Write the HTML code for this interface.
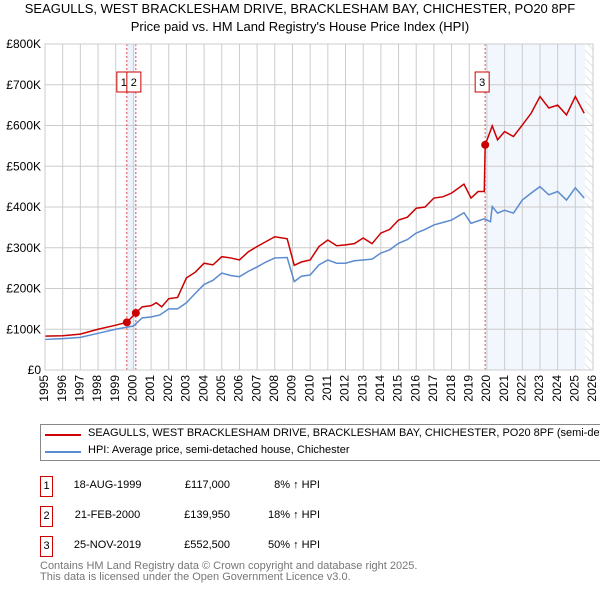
<!DOCTYPE html>
<html><head><meta charset="utf-8"><style>
body{margin:0;background:#fff;font-family:"Liberation Sans","DejaVu Sans",sans-serif;}
#wrap{position:relative;width:600px;height:590px;overflow:hidden}
.t{position:absolute;font-size:12px;color:#000;white-space:nowrap}
</style></head><body><div id="wrap">
<div class="t" style="left:0;width:600px;text-align:center;top:1px;font-size:13px">SEAGULLS, WEST BRACKLESHAM DRIVE, BRACKLESHAM BAY, CHICHESTER, PO20 8PF</div>
<div class="t" style="left:0;width:600px;text-align:center;top:19px;font-size:13px">Price paid vs. HM Land Registry's House Price Index (HPI)</div>
<svg id="c" width="600" height="420" style="position:absolute;left:0;top:0"></svg>
<div style="position:absolute;left:40px;top:424px;width:600px;height:37px;border:1px solid #888;box-sizing:border-box">
<div style="position:absolute;left:4px;top:9px;width:36px;height:2px;background:#cc0000"></div>
<div class="t" style="left:47px;top:2px;font-size:11px">SEAGULLS, WEST BRACKLESHAM DRIVE, BRACKLESHAM BAY, CHICHESTER, PO20 8PF (semi-detached house)</div>
<div style="position:absolute;left:4px;top:26px;width:36px;height:2px;background:#5b8bd0"></div>
<div class="t" style="left:47px;top:19px;font-size:11px">HPI: Average price, semi-detached house, Chichester</div>
</div>
<div id="tbl"></div>
<div class="t" style="left:40px;top:560px;font-size:11px;color:#777">Contains HM Land Registry data © Crown copyright and database right 2025.</div>
<div class="t" style="left:40px;top:571px;font-size:11px;color:#777">This data is licensed under the Open Government Licence v3.0.</div>
</div>
<script>
const hpiYears=[1995,1996,1997,1998,1999,2000,2000.5,2001,2001.5,2002,2002.5,2003,2003.5,2004,2004.5,2005,2005.5,2006,2006.5,2007,2007.5,2008,2008.7,2009.1,2009.5,2010,2010.5,2011,2011.5,2012,2012.5,2013,2013.5,2014,2014.5,2015,2015.5,2016,2016.5,2017,2017.5,2018,2018.7,2019.1,2019.5,2019.85,2020.2,2020.3,2020.6,2021,2021.5,2022,2022.5,2023,2023.5,2024,2024.5,2025,2025.5];
const hpiValues=[75,77,80,90,100,108,128,130,135,150,150,165,188,210,220,238,232,229,242,253,265,275,276,217,230,233,258,270,262,262,268,270,272,287,295,311,320,336,345,356,362,368,386,360,366,371,364,401,385,392,385,417,434,450,430,438,417,447,422];
const ppYears=[1995,1996,1997,1998,1999,1999.63,2000.14,2000.5,2001,2001.3,2001.6,2002,2002.5,2003,2003.5,2004,2004.5,2005,2005.5,2006,2006.5,2007,2007.5,2008,2008.7,2009.1,2009.5,2010,2010.5,2011,2011.5,2012,2012.5,2013,2013.5,2014,2014.5,2015,2015.5,2016,2016.5,2017,2017.5,2018,2018.7,2019.1,2019.5,2019.85,2019.9,2020.3,2020.6,2021,2021.5,2022,2022.5,2023,2023.5,2024,2024.5,2025,2025.5];
const ppValues=[83,84,88,100,110,117,139.95,155,158,165,155,175,178,226,240,262,258,278,275,270,290,303,315,327,322,257,265,270,303,319,305,307,310,324,310,336,345,368,375,397,400,422,425,434,456,422,438,438,552.5,599,565,585,573,601,630,671,643,650,626,671,630];
const saleYears=[1999.63,2000.14,2019.9];
const saleValues=[117,139.95,552.5];
const saleLabels=["1","2","3"];
const yTicks=[0,100,200,300,400,500,600,700,800];
const yTickLabels=["£0","£100K","£200K","£300K","£400K","£500K","£600K","£700K","£800K"];
const xTicks=[1995,1996,1997,1998,1999,2000,2001,2002,2003,2004,2005,2006,2007,2008,2009,2010,2011,2012,2013,2014,2015,2016,2017,2018,2019,2020,2021,2022,2023,2024,2025,2026];
const tblDates=["18-AUG-1999","21-FEB-2000","25-NOV-2019"];
const tblPrices=["£117,000","£139,950","£552,500"];
const tblHpi=["8% ↑ HPI","18% ↑ HPI","50% ↑ HPI"];

const X=y=>45+(y-1995)*(548/31), Y=v=>370-v*0.4075;
const svg=document.getElementById('c'),NS='http://www.w3.org/2000/svg';
function mk(t,a,p){const e=document.createElementNS(NS,t);for(const k in a)e.setAttribute(k,a[k]);(p||svg).appendChild(e);return e;}
let r=mk('rect',{x:X(saleYears[0]),y:44,width:X(saleYears[1])-X(saleYears[0]),height:326,fill:'#eef3fb'});

r=mk('rect',{x:X(saleYears[2]),y:44,width:X(2025.55)-X(saleYears[2]),height:326,fill:'#f2f6fd'});

const defs=mk('defs',{});const pat=mk('pattern',{id:'h',width:6,height:6,patternUnits:'userSpaceOnUse',patternTransform:'rotate(-45)'},defs);
mk('line',{x1:0,y1:0,x2:0,y2:6,stroke:'#ccc','stroke-width':1},pat);
r=mk('rect',{x:X(2025.55),y:44,width:X(2026)-X(2025.55),height:326,fill:'url(#h)'});

xTicks.forEach(t=>{const l=mk('line',{x1:X(t),x2:X(t),y1:44,y2:370,stroke:'#ccc','stroke-width':1});

const tx=mk('text',{x:0,y:0,'font-size':12,'text-anchor':'end','dominant-baseline':'middle',transform:`translate(${X(t)},375) rotate(-90)`,fill:'#000'});tx.textContent=t;
});
yTicks.forEach((t,i)=>{const l=mk('line',{x1:45,x2:593,y1:Y(t),y2:Y(t),stroke:'#ccc','stroke-width':1});

const tx=mk('text',{x:41,y:Y(t)+4,'font-size':12,'text-anchor':'end',fill:'#000'});tx.textContent=yTickLabels[i];
});
saleYears.forEach((s,i)=>{const l=mk('line',{x1:X(s),x2:X(s),y1:44,y2:370,stroke:'#e05050','stroke-width':1,'stroke-dasharray':'2,2'});
});
let p=mk('polyline',{points:hpiYears.map((y,i)=>X(y)+','+Y(hpiValues[i])).join(' '),fill:'none',stroke:'#5b8bd0','stroke-width':1.5});

p=mk('polyline',{points:ppYears.map((y,i)=>X(y)+','+Y(ppValues[i])).join(' '),fill:'none',stroke:'#cc0000','stroke-width':1.5});

saleYears.forEach((s,i)=>{const c=mk('circle',{cx:X(s),cy:Y(saleValues[i]),r:4,fill:'#cc0000'});

const bx=i==0?X(s)-10:(i==1?X(s)-9:X(s)-10);
const b=mk('rect',{x:bx,y:72,width:14,height:20,fill:'#fff',stroke:'#cc0000','stroke-width':1});

const tx=mk('text',{x:bx+7,y:86,'font-size':11,'text-anchor':'middle',fill:'#000'});tx.textContent=saleLabels[i];
});
r=mk('rect',{x:45,y:44,width:548,height:326,fill:'none',stroke:'#ccc'});

const tbl=document.getElementById('tbl');
saleLabels.forEach((l,i)=>{const top=476+i*30;
const row=document.createElement('div');
row.innerHTML=`<div style="position:absolute;left:40px;top:${top}px;width:11px;height:19px;border:1px solid #cc0000;font-size:11px;text-align:center;line-height:19px">${l}</div>
<div class="t" style="left:70px;width:75px;text-align:center;top:${top+3}px;font-size:11px">${tblDates[i]}</div>
<div class="t" style="left:170px;width:60px;text-align:right;top:${top+3}px;font-size:11px">${tblPrices[i]}</div>
<div class="t" style="left:250px;width:70px;text-align:right;top:${top+3}px;font-size:11px">${tblHpi[i]}</div>`;
tbl.appendChild(row);});
</script></body></html>
